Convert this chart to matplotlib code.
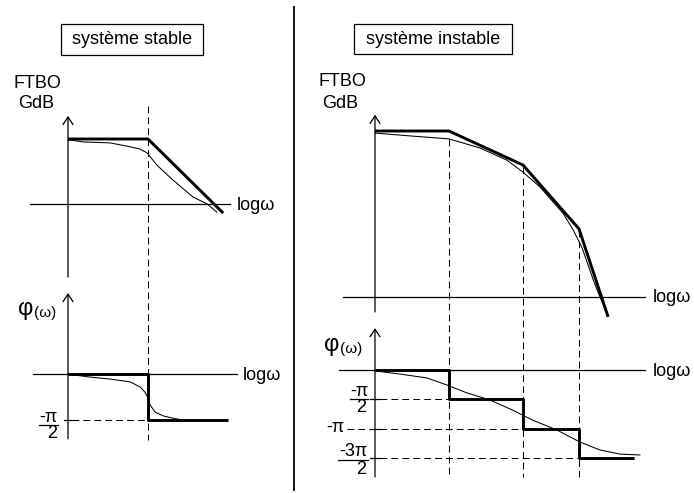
import matplotlib
matplotlib.use("Agg")
import matplotlib.pyplot as plt
from matplotlib.patches import Rectangle

# ---------------- data (diagram units) ----------------
# Left panel: stable system (x in decades of log w, gain in dB, phase in units of pi/2)
st_gain_asym_x = [0.0, 1.0, 1.94]
st_gain_asym_y = [20.0, 20.0, -2.8]
st_gain_real_x = [0.0, 0.025, 0.19, 0.525, 0.74, 0.9, 0.99, 1.11, 1.31, 1.56, 1.74, 1.86]
st_gain_real_y = [19.6, 19.7, 19.1, 18.8, 17.8, 16.9, 15.7, 12.0, 7.4, 2.2, 0.0, -2.5]
st_phase_asym_x = [0.0, 1.0, 1.0, 2.0]
st_phase_asym_y = [0.0, 0.0, -1.0, -1.0]
st_phase_real_x = [0.0, 0.24, 0.525, 0.775, 0.9, 0.96, 1.0, 1.025, 1.09, 1.19, 1.31, 1.4]
st_phase_real_y = [0.0, -0.06, -0.11, -0.17, -0.28, -0.39, -0.52, -0.67, -0.83, -0.91, -0.96, -0.99]
st_breaks = [1.0]

# Right panel: unstable system
in_gain_asym_x = [0.0, 1.0, 2.0, 2.757, 3.15]
in_gain_asym_y = [40.0, 40.0, 31.8, 16.4, -4.8]
in_gain_real_x = [0.0, 0.34, 1.0, 1.42, 1.78, 2.0, 2.23, 2.54, 2.68, 2.8, 2.95, 3.04, 3.11]
in_gain_real_y = [39.5, 39.0, 38.1, 35.9, 33.0, 30.1, 26.5, 20.2, 16.1, 11.8, 4.1, 0.0, -2.7]
in_phase_asym_x = [0.0, 1.0, 1.0, 2.0, 2.0, 2.757, 2.757, 3.5]
in_phase_asym_y = [0.0, 0.0, -1.0, -1.0, -2.0, -2.0, -3.0, -3.0]
in_phase_real_x = [0.0, 0.34, 0.70, 0.97, 1.24, 1.55, 1.86, 2.13, 2.46, 2.77, 3.04, 3.31, 3.58]
in_phase_real_y = [-0.03, -0.14, -0.27, -0.51, -0.78, -1.02, -1.37, -1.71, -2.05, -2.46, -2.73, -2.87, -2.9]
in_breaks = [1.0, 2.0, 2.757]
in_break_gain_top = [38.1, 31.3, 16.1]
in_levels = [-1.0, -2.0, -3.0]

titles = ["système stable", "système instable"]
level_labels = ["-π/2", "-π", "-3π/2"]

# ---------------- figure ----------------
W, H = 694, 493
fig = plt.figure(figsize=(W / 100, H / 100), dpi=100)
FONT = "Liberation Sans"
FS = 13
THIN = 0.75
THICK = 2.1
AX = 0.9
DASH = (0, (6.5, 4.0))

ov = fig.add_axes([0, 0, 1, 1])
ov.set_xlim(0, W)
ov.set_ylim(H, 0)
ov.axis("off")


def panel(ox, oy, sx, sy):
    a = fig.add_axes([0, 0, 1, 1])
    a.set_xlim((0 - ox) / sx, (W - ox) / sx)
    a.set_ylim((oy - H) / sy, (oy - 0) / sy)
    a.patch.set_alpha(0)
    a.axis("off")
    return a


def yaxis_arrow(a, bottom, top):
    a.annotate("", xy=(0, top), xytext=(0, bottom),
               arrowprops=dict(arrowstyle="->,head_length=0.45,head_width=0.3",
                               lw=AX, color="black", shrinkA=0, shrinkB=0,
                               mutation_scale=12))


def txt(x, y, s, **kw):
    kw.setdefault("fontsize", FS)
    ov.text(x, y, s, family=FONT, color="black", **kw)


# divider
ov.plot([294, 294], [7, 490], color="black", lw=1.3)

# title boxes
ov.add_patch(Rectangle((61, 24), 142, 31, fill=False, lw=0.9, ec="black"))
txt(132, 40, titles[0], ha="center", va="center")
ov.add_patch(Rectangle((354, 24), 158, 30, fill=False, lw=0.9, ec="black"))
txt(433, 39.5, titles[1], ha="center", va="center")

# FTBO / GdB labels
txt(37, 84, "FTBO", ha="center", va="center")
txt(36, 104, "GdB", ha="center", va="center")
txt(342, 82, "FTBO", ha="center", va="center")
txt(340, 104, "GdB", ha="center", va="center")

# ---------- left gain ----------
g1 = panel(68, 204, 80, 3.25)
g1.plot([-0.475, 2.025], [0, 0], color="black", lw=AX)
yaxis_arrow(g1, -22.5, 27.1)
for b in st_breaks:
    g1.plot([b, b], [30.2, -72.6], color="black", lw=THIN, ls=DASH)
g1.plot(st_gain_real_x, st_gain_real_y, color="black", lw=THIN)
g1.plot(st_gain_asym_x, st_gain_asym_y, color="black", lw=THICK, solid_capstyle="butt")
txt(237, 205, "logω", ha="left", va="center")

# ---------- left phase ----------
p1 = panel(68, 374, 80, 46)
p1.plot([-0.44, 2.11], [0, 0], color="black", lw=AX)
yaxis_arrow(p1, -1.41, 1.76)
p1.plot([0.05, st_breaks[0]], [-1, -1], color="black", lw=THIN, ls=DASH)
p1.plot([-0.05, 0.05], [-1, -1], color="black", lw=AX)
p1.plot(st_phase_real_x, st_phase_real_y, color="black", lw=THIN)
p1.plot(st_phase_asym_x, st_phase_asym_y, color="black", lw=THICK, solid_capstyle="butt")
txt(243, 375, "logω", ha="left", va="center")
txt(33, 309, "φ", ha="right", va="center", fontsize=17)
txt(34, 313, "(ω)", ha="left", va="center", fontsize=11)
# -pi/2 label
txt(48, 418, "-π", ha="center", va="center")
ov.plot([39, 58], [425, 425], color="black", lw=0.9)
txt(52, 434, "2", ha="center", va="center")

# ---------- right gain ----------
g2 = panel(375, 297, 74, 4.15)
g2.plot([-0.43, 3.65], [0, 0], color="black", lw=AX)
yaxis_arrow(g2, -3.6, 43.9)
for b, t in zip(in_breaks, in_break_gain_top):
    g2.plot([b, b], [t, -43.4], color="black", lw=THIN, ls=DASH)
g2.plot(in_gain_real_x, in_gain_real_y, color="black", lw=THIN)
g2.plot(in_gain_asym_x, in_gain_asym_y, color="black", lw=THICK, solid_capstyle="butt")
txt(653, 298, "logω", ha="left", va="center")

# ---------- right phase ----------
p2 = panel(375, 370, 74, 29.3)
p2.plot([-0.49, 3.65], [0, 0], color="black", lw=AX)
yaxis_arrow(p2, -3.65, 1.43)
starts = [0.07, -0.38, 0.07]
for lv, b, s in zip(in_levels, in_breaks, starts):
    p2.plot([s, b], [lv, lv], color="black", lw=THIN, ls=DASH)
    p2.plot([-0.07, 0.07], [lv, lv], color="black", lw=AX)
p2.plot(in_phase_real_x, in_phase_real_y, color="black", lw=THIN)
p2.plot(in_phase_asym_x, in_phase_asym_y, color="black", lw=THICK, solid_capstyle="butt")
txt(653, 371, "logω", ha="left", va="center")
txt(339, 345, "φ", ha="right", va="center", fontsize=17)
txt(340, 349, "(ω)", ha="left", va="center", fontsize=11)
# level labels
txt(359, 392, "-π", ha="center", va="center")
ov.plot([350, 368], [399, 399], color="black", lw=0.9)
txt(361, 408, "2", ha="center", va="center")
txt(335, 427, "-π", ha="center", va="center")
txt(353, 452, "-3π", ha="center", va="center")
ov.plot([338, 368], [459.5, 459.5], color="black", lw=0.9)
txt(361, 470, "2", ha="center", va="center")

fig.savefig("out.png", dpi=100, facecolor="white")
